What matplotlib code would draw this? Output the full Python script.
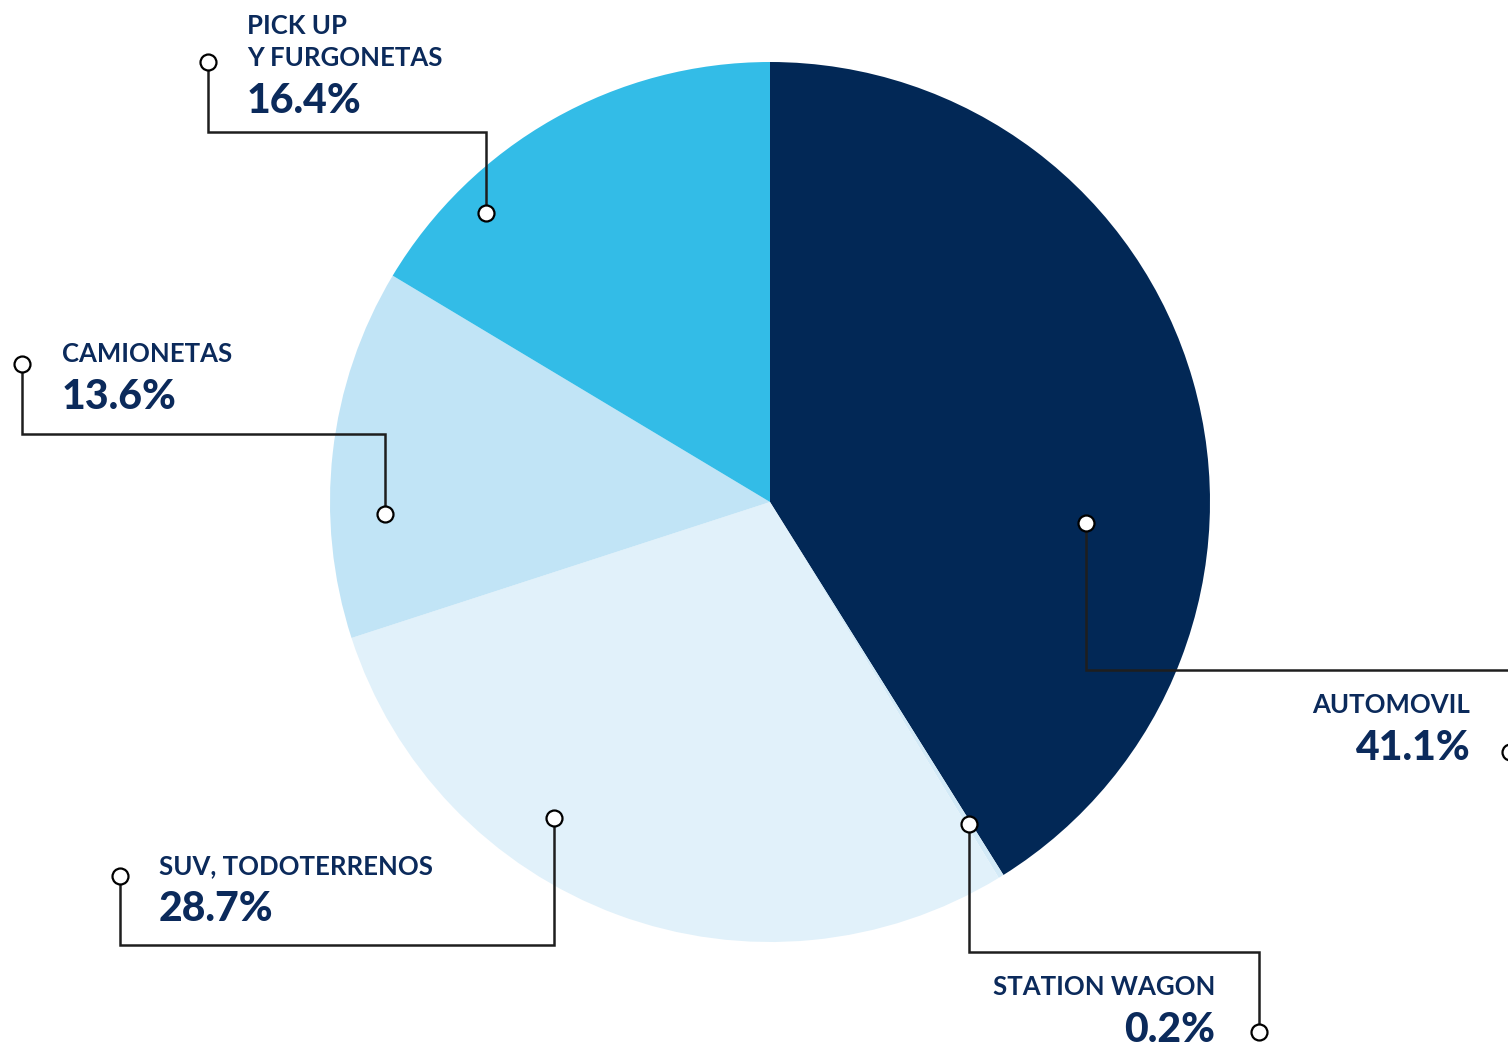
import numpy as np
import matplotlib.pyplot as plt

# vehicle type share (%), clockwise from the top
categories = ["AUTOMOVIL", "STATION WAGON", "SUV, TODOTERRENOS", "CAMIONETAS", "PICK UP\nY FURGONETAS"]
shares = [41.1, 0.2, 28.7, 13.6, 16.4]
share_labels = ["41.1%", "0.2%", "28.7%", "13.6%", "16.4%"]

colors = ["#022856", "#D3EAF7", "#E1F1FA", "#C1E4F6", "#33BCE7"]
TEXT = "#0B2A5B"
LINE = "#1E1E1E"

W, H = 1508, 1046
cx, cy, R = 770, 502, 440   # pie centre/radius in pixels (y down)

fig = plt.figure(figsize=(W / 100, H / 100), dpi=100)
ax = fig.add_axes([0, 0, 1, 1])
ax.pie(shares, colors=colors, startangle=90, counterclock=False,
       center=(cx, H - cy), radius=R, wedgeprops=dict(linewidth=0))
ax.set_xlim(0, W)
ax.set_ylim(0, H)
ax.set_aspect("auto")
ax.axis("off")

# wedge edges measured clockwise from 12 o'clock
edges = np.concatenate([[0], np.cumsum(shares)]) / 100 * 360

# connector layout: position inside the wedge (fraction of its sweep, radius fraction),
# elbow height, end x, end y, label anchor (baseline of the last name line) and alignment
layout = [
    dict(frac=0.634, rf=0.72, elbow=670, ex=1510, ey=752, tx=1470, ty=713, ha="right"),
    dict(frac=0.5, rf=0.86, elbow=952, ex=1259, ey=1032, tx=1215, ty=995, ha="right"),
    dict(frac=0.636, rf=0.87, elbow=945, ex=120, ey=876, tx=159, ty=874, ha="left"),
    dict(frac=0.33, rf=0.875, elbow=434, ex=22, ey=364, tx=62, ty=362, ha="left"),
    dict(frac=0.246, rf=0.92, elbow=132, ex=208, ey=62, tx=247, ty=66, ha="left"),
]


def px(x, y):
    return x, H - y


for i, (name, lab, lo) in enumerate(zip(categories, share_labels, layout)):
    a = np.radians(edges[i] + lo["frac"] * (edges[i + 1] - edges[i]))
    ax_ = cx + lo["rf"] * R * np.sin(a)
    ay_ = cy - lo["rf"] * R * np.cos(a)
    xs = [ax_, ax_, lo["ex"], lo["ex"]]
    ys = [ay_, lo["elbow"], lo["elbow"], lo["ey"]]
    ax.plot(xs, [H - y for y in ys], color=LINE, lw=1.8, solid_joinstyle="miter",
            zorder=3, clip_on=False)
    for x, y in [(xs[0], ys[0]), (xs[-1], ys[-1])]:
        ax.plot(*px(x, y), "o", ms=11.5, mfc="white", mec="black", mew=1.6,
                zorder=4, clip_on=False)

    ax.text(*px(lo["tx"], lo["ty"]), name, ha=lo["ha"], va="baseline",
            fontsize=18.5, family="Lato", fontweight="bold", color=TEXT,
            linespacing=1.42)
    ax.text(*px(lo["tx"], lo["ty"] + 47), lab, ha=lo["ha"], va="baseline",
            fontsize=29.5, family="Lato", fontweight="black", color=TEXT)

fig.savefig("out.png", dpi=100)
